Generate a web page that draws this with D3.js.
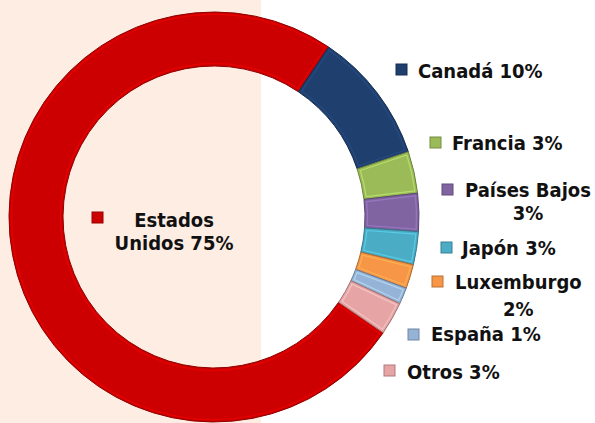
<!DOCTYPE html>
<html><head><meta charset="utf-8">
<script src="https://cdn.jsdelivr.net/npm/d3@7"></script>
<style>html,body{margin:0;padding:0;background:#fff;}svg{display:block;}</style>
</head><body>
<svg id="c" width="595" height="423"></svg>
<script>
const categories = ["Estados Unidos", "Canadá", "Francia", "Países Bajos", "Japón", "Luxemburgo", "España", "Otros"];
const values = [74.9, 10.4, 3.3, 3.0, 2.6, 1.9, 1.3, 2.6];
const labels = [["Estados", "Unidos 75%"], ["Canadá 10%"], ["Francia 3%"], ["Países Bajos", "3%"], ["Japón 3%"], ["Luxemburgo", "2%"], ["España 1%"], ["Otros 3%"]];
const colors = ["#cc0000", "#1f3f6e", "#9bbb59", "#8064a2", "#4bacc6", "#f79646", "#95b3d7", "#e6a4a4"];

const svg = d3.select("#c");
svg.append("rect").attr("x", 0).attr("y", 0).attr("width", 261).attr("height", 423).attr("fill", "#fdede3");

const cx = 214, cy = 217, R = 205, r = 151;
const start = (124.36) * Math.PI / 180;
const pie = d3.pie().sort(null).value(d => d).startAngle(start).endAngle(start + 2 * Math.PI);
const arcs = pie(values);
const arc = d3.arc().innerRadius(r).outerRadius(R);
const inset = d3.arc().innerRadius(r + 2.5).outerRadius(R - 2.5).padRadius(R).padAngle(5 / R);

const g = svg.append("g").attr("transform", `translate(${cx},${cy})`);
g.selectAll("path.slice").data(arcs).join("path").attr("class", "slice")
  .attr("d", arc).attr("fill", (d, i) => colors[i])
  .attr("stroke", (d, i) => d3.color(colors[i]).darker(1)).attr("stroke-width", 1);
g.selectAll("path.hl").data(arcs).join("path").attr("class", "hl")
  .attr("d", inset).attr("fill", "none")
  .attr("stroke", (d, i) => d3.color(colors[i]).brighter(0.8)).attr("stroke-width", 1.2).attr("stroke-opacity", 0.55);

const lab = [
  {mx: 92, my: 212, tx: 174, ty: 227, anchor: "middle", dy: 23},
  {mx: 396, my: 64, tx: 418, ty: 78},
  {mx: 430, my: 137, tx: 452, ty: 150},
  {mx: 442, my: 184, tx: 465, ty: 197, dy: 23},
  {mx: 441, my: 242, tx: 462, ty: 255},
  {mx: 432, my: 276, tx: 455, ty: 289, dy: 27},
  {mx: 408, my: 329, tx: 431, ty: 341},
  {mx: 384, my: 365, tx: 407, ty: 379}
];
const lg = svg.append("g").attr("font-family", "'DejaVu Sans Condensed', 'DejaVu Sans', sans-serif")
  .attr("font-stretch", "condensed").attr("font-weight", "bold").attr("font-size", 20).attr("fill", "#111");
labels.forEach((lines, i) => {
  const L = lab[i];
  lg.append("rect").attr("x", L.mx).attr("y", L.my).attr("width", 11).attr("height", 11)
    .attr("fill", colors[i]).attr("stroke", d3.color(colors[i]).darker(0.8)).attr("stroke-width", 1);
  const t = lg.append("text").attr("x", L.tx).attr("y", L.ty).attr("text-anchor", L.anchor || "start").text(lines[0]);
  if (lines.length > 1) {
    let center = L.tx;
    if (!L.anchor) { center = L.tx + t.node().getComputedTextLength() / 2; }
    lg.append("text").attr("x", center).attr("y", L.ty + L.dy).attr("text-anchor", "middle").text(lines[1]);
  }
});
</script>
</body></html>
